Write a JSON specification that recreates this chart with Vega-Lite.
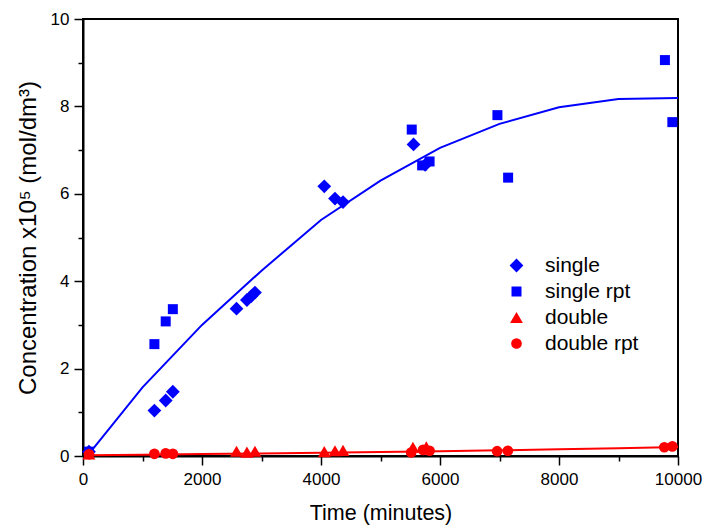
{
  "$schema": "https://vega.github.io/schema/vega-lite/v6.json",
  "width": 595,
  "height": 437,
  "autosize": {"type": "none"},
  "padding": {"left": 83, "top": 19, "right": 27, "bottom": 73},
  "background": "white",
  "config": {
    "view": {"stroke": "black", "strokeWidth": 2},
    "font": "Liberation Sans",
    "axis": {
      "grid": false,
      "domainColor": "black",
      "domainWidth": 2,
      "tickColor": "black",
      "tickWidth": 1.5,
      "labelColor": "black",
      "titleColor": "black",
      "titleFontWeight": "normal",
      "labelFontSize": 17,
      "labelFlush": false,
      "labelOverlap": false
    }
  },
  "datasets": {
    "blueFit": [
      {"t": 100, "c": 0.05}, {"t": 1000, "c": 1.57}, {"t": 2000, "c": 3.0}, {"t": 3000, "c": 4.24},
      {"t": 4000, "c": 5.4}, {"t": 5000, "c": 6.3}, {"t": 6000, "c": 7.05}, {"t": 7000, "c": 7.6},
      {"t": 8000, "c": 7.98}, {"t": 9000, "c": 8.17}, {"t": 10000, "c": 8.19}
    ],
    "redFit": [
      {"t": 100, "c": 0.02}, {"t": 1000, "c": 0.03}, {"t": 2000, "c": 0.045}, {"t": 3000, "c": 0.06},
      {"t": 4000, "c": 0.075}, {"t": 5000, "c": 0.09}, {"t": 6000, "c": 0.11}, {"t": 7000, "c": 0.13},
      {"t": 8000, "c": 0.155}, {"t": 9000, "c": 0.18}, {"t": 10000, "c": 0.205}
    ],
    "points": [
      {"t": 100, "c": 0.1, "s": "single"},
      {"t": 1200, "c": 1.04, "s": "single"},
      {"t": 1390, "c": 1.27, "s": "single"},
      {"t": 1510, "c": 1.47, "s": "single"},
      {"t": 2580, "c": 3.37, "s": "single"},
      {"t": 2755, "c": 3.57, "s": "single"},
      {"t": 2830, "c": 3.66, "s": "single"},
      {"t": 2890, "c": 3.74, "s": "single"},
      {"t": 4055, "c": 6.17, "s": "single"},
      {"t": 4235, "c": 5.89, "s": "single"},
      {"t": 4370, "c": 5.81, "s": "single"},
      {"t": 5555, "c": 7.13, "s": "single"},
      {"t": 5750, "c": 6.66, "s": "single"},
      {"t": 100, "c": 0.1, "s": "single rpt"},
      {"t": 1200, "c": 2.56, "s": "single rpt"},
      {"t": 1390, "c": 3.08, "s": "single rpt"},
      {"t": 1510, "c": 3.36, "s": "single rpt"},
      {"t": 5525, "c": 7.47, "s": "single rpt"},
      {"t": 5700, "c": 6.65, "s": "single rpt"},
      {"t": 5825, "c": 6.74, "s": "single rpt"},
      {"t": 6965, "c": 7.8, "s": "single rpt"},
      {"t": 7145, "c": 6.37, "s": "single rpt"},
      {"t": 9780, "c": 9.06, "s": "single rpt"},
      {"t": 9905, "c": 7.64, "s": "single rpt"},
      {"t": 100, "c": 0.05, "s": "double"},
      {"t": 2580, "c": 0.11, "s": "double"},
      {"t": 2755, "c": 0.09, "s": "double"},
      {"t": 2890, "c": 0.11, "s": "double"},
      {"t": 4055, "c": 0.1, "s": "double"},
      {"t": 4235, "c": 0.12, "s": "double"},
      {"t": 4370, "c": 0.13, "s": "double"},
      {"t": 5545, "c": 0.2, "s": "double"},
      {"t": 5770, "c": 0.21, "s": "double"},
      {"t": 100, "c": 0.04, "s": "double rpt"},
      {"t": 1200, "c": 0.05, "s": "double rpt"},
      {"t": 1390, "c": 0.06, "s": "double rpt"},
      {"t": 1510, "c": 0.05, "s": "double rpt"},
      {"t": 5515, "c": 0.08, "s": "double rpt"},
      {"t": 5715, "c": 0.14, "s": "double rpt"},
      {"t": 5825, "c": 0.12, "s": "double rpt"},
      {"t": 6960, "c": 0.11, "s": "double rpt"},
      {"t": 7140, "c": 0.12, "s": "double rpt"},
      {"t": 9770, "c": 0.2, "s": "double rpt"},
      {"t": 9905, "c": 0.22, "s": "double rpt"}
    ]
  },
  "encoding": {
    "x": {
      "field": "t",
      "type": "quantitative",
      "scale": {"domain": [0, 10000], "nice": false},
      "axis": {
        "title": "Time (minutes)",
        "titleFontSize": 21.5,
        "values": [0, 1000, 2000, 3000, 4000, 5000, 6000, 7000, 8000, 9000, 10000],
        "format": "d",
        "labelExpr": "datum.value % 2000 === 0 ? datum.label : ''",
        "tickSize": {"condition": {"test": "datum.value % 2000 === 0", "value": 9}, "value": 5},
        "labelPadding": 6,
        "titlePadding": 15
      }
    },
    "y": {
      "field": "c",
      "type": "quantitative",
      "scale": {"domain": [0, 10], "nice": false},
      "axis": {
        "title": "Concentration x10⁵ (mol/dm³)",
        "titleFontSize": 24,
        "values": [0, 1, 2, 3, 4, 5, 6, 7, 8, 9, 10],
        "format": "d",
        "labelExpr": "datum.value % 2 === 0 ? datum.label : ''",
        "tickSize": {"condition": {"test": "datum.value % 2 === 0", "value": 9}, "value": 5},
        "labelPadding": 5,
        "titlePadding": 10
      }
    }
  },
  "layer": [
    {
      "data": {"name": "blueFit"},
      "mark": {"type": "line", "color": "#0000ff", "strokeWidth": 2}
    },
    {
      "data": {"name": "redFit"},
      "mark": {"type": "line", "color": "#ff0000", "strokeWidth": 2}
    },
    {
      "data": {"name": "points"},
      "mark": {"type": "point", "filled": true, "opacity": 1},
      "encoding": {
        "shape": {
          "field": "s",
          "type": "nominal",
          "scale": {"domain": ["single", "single rpt", "double", "double rpt"], "range": ["diamond", "square", "triangle-up", "circle"]},
          "legend": {
            "orient": "none",
            "legendX": 423,
            "legendY": 236,
            "title": null,
            "labelFontSize": 21,
            "labelColor": "black",
            "padding": 0,
            "rowPadding": 4,
            "labelOffset": 18
          }
        },
        "color": {
          "field": "s",
          "type": "nominal",
          "scale": {"domain": ["single", "single rpt", "double", "double rpt"], "range": ["#0000ff", "#0000ff", "#ff0000", "#ff0000"]}
        },
        "size": {
          "field": "s",
          "type": "nominal",
          "scale": {"type": "ordinal", "domain": ["single", "single rpt", "double", "double rpt"], "range": [190, 100, 165, 115]}
        }
      }
    }
  ]
}
